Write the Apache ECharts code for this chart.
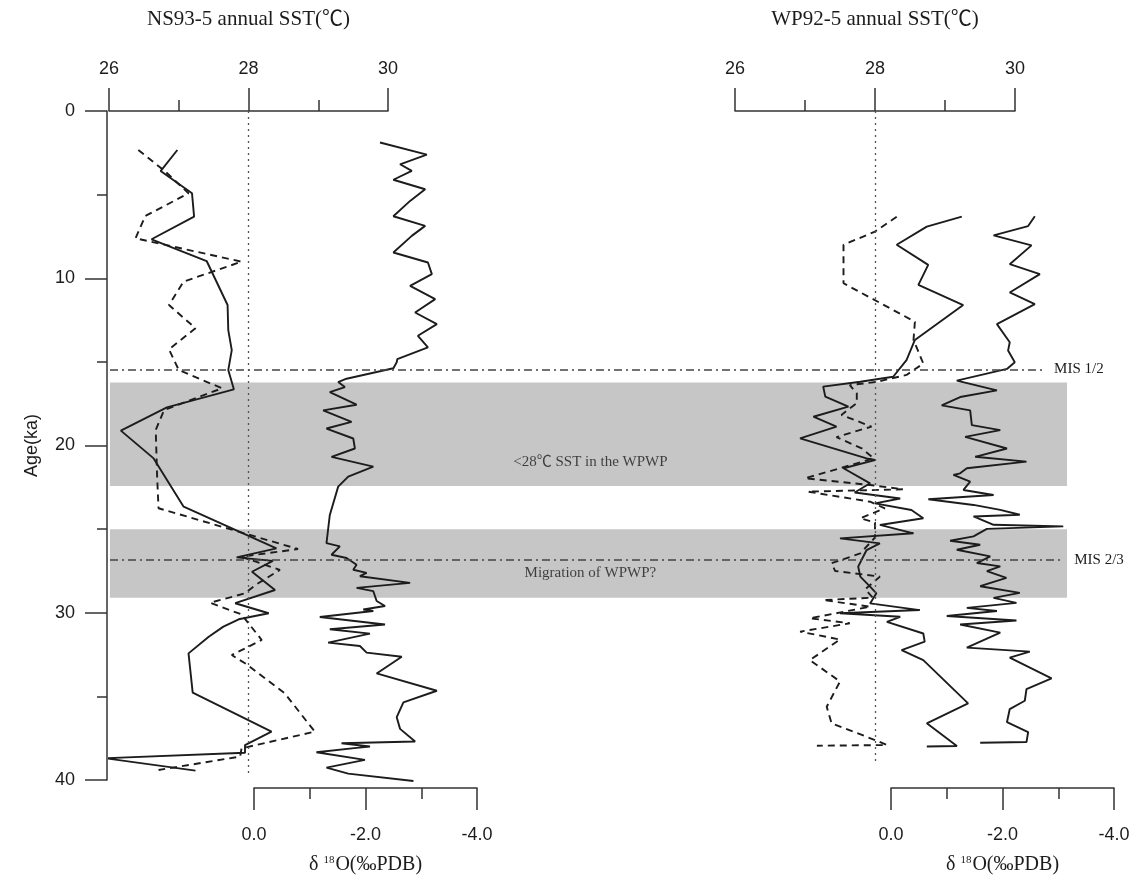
<!DOCTYPE html>
<html><head><meta charset="utf-8">
<script src="https://cdn.jsdelivr.net/npm/echarts@6/dist/echarts.min.js"></script>
<style>html,body{margin:0;padding:0;background:#fff}#c{width:1142px;height:880px}</style>
</head><body><div id="c"></div>
<script>
// ---------------- data ----------------
const ageTicks = [0, 10, 20, 30, 40];
const sstTicks = [26, 28, 30];
const d18Ticks = [0, -2, -4];
const refSst = 28;

// NS93-5 SST (solid)
const nsSstAge = [2.33,3.59,4.92,6.32,7.67,8.97,11.6,13.1,14.3,15.49,16.64,17.72,19.11,20.77,23.66,26.15,26.69,26.9,27.55,28.64,29.43,30.03,30.39,30.83,31.43,32.43,34.78,37.11,37.91,38.37,38.70,39.44];
const nsSstVal = [26.98,26.74,27.19,27.22,26.61,27.40,27.70,27.71,27.76,27.71,27.79,26.83,26.17,26.64,27.07,28.40,27.83,28.35,28.05,28.38,27.81,28.29,27.86,27.64,27.43,27.14,27.20,28.33,27.95,27.95,25.95,27.24];
// NS93-5 SST (dashed)
const nsDashAge = [2.33,3.63,4.92,6.28,7.61,9.01,10.2,11.6,12.99,14.25,15.49,16.58,17.88,19.07,21.86,23.75,26.19,26.65,27.44,28.34,28.84,29.4,30.1,31.63,32.53,33.02,34.82,37.11,38.11,38.6,39.4];
const nsDashVal = [26.42,26.81,27.14,26.52,26.38,27.90,27.07,26.86,27.24,26.86,27.00,27.62,26.79,26.67,26.69,26.71,28.71,27.90,28.45,28.10,27.95,27.45,27.90,28.19,27.76,27.95,28.52,28.95,27.90,27.88,26.71];
// NS93-5 d18O
const nsD18Age = [1.89,2.62,3.2,3.6,4.13,4.7,5.4,6.32,6.9,7.5,8.5,9.1,9.8,10.5,11.3,12.1,12.8,13.5,14.2,14.9,15.09,15.45,16.08,16.28,16.58,16.88,17.64,17.98,18.67,19.07,19.67,20.27,20.77,21.36,21.96,22.56,24.26,25.95,26.15,26.65,26.85,27.25,27.55,27.74,27.94,28.34,28.64,28.84,29.43,29.73,29.94,30.03,30.39,30.84,31.13,31.39,31.93,32.13,32.53,32.78,33.78,34.82,35.52,36.41,37.11,37.87,37.97,38.17,38.25,38.51,38.97,39.44,39.80,40.24];
const nsD18Val = [-2.26,-3.10,-2.62,-2.83,-2.50,-3.07,-2.80,-2.50,-3.07,-2.83,-2.50,-3.12,-3.19,-2.80,-3.25,-2.89,-3.28,-2.94,-3.12,-2.57,-2.56,-2.50,-1.66,-1.51,-1.63,-1.36,-1.84,-1.24,-1.75,-1.30,-1.78,-1.81,-1.39,-2.14,-1.69,-1.51,-1.36,-1.30,-1.54,-1.39,-1.66,-1.84,-1.78,-2.02,-1.90,-2.80,-1.84,-2.14,-2.20,-2.35,-1.96,-2.14,-1.18,-2.35,-1.36,-2.08,-1.33,-1.90,-2.02,-2.65,-2.20,-3.28,-2.68,-2.56,-2.62,-2.89,-1.57,-2.08,-1.84,-1.12,-1.99,-1.30,-1.69,-2.86];

// WP92-5 SST (dashed)
const wpDashAge = [6.32,7.21,8.0,10.3,12.6,13.69,15.1,15.78,16.2,16.39,16.88,17.47,18.17,18.87,19.5,20.17,20.77,21.36,21.96,22.36,22.62,22.76,23.36,23.76,24.35,24.6,25.5,26.45,27.04,27.5,27.84,28.6,29.1,29.24,29.64,30.33,30.63,31.13,31.6,32.83,34.11,35.62,36.61,37.61,37.91,37.95];
const wpDashVal = [28.31,28.00,27.55,27.55,28.57,28.55,28.69,28.45,28.02,27.64,27.74,27.74,27.52,27.95,27.45,27.81,27.98,27.50,27.00,27.93,28.40,27.04,27.93,28.14,27.79,28.00,28.00,27.79,27.38,27.43,28.07,27.86,27.97,27.26,27.93,27.07,27.64,26.93,27.50,27.07,27.50,27.31,27.38,28.00,28.17,27.17];
// WP92-5 SST (solid)
const wpSstAge = [6.32,6.91,8.0,9.2,10.4,11.6,13.69,14.89,15.89,16.19,16.48,17.08,17.68,18.28,18.87,19.57,20.77,20.87,21.36,22.26,22.81,23.17,23.46,23.86,24.35,24.75,25.25,25.55,25.85,26.25,27.24,27.84,28.44,28.84,29.44,29.84,30.03,30.24,30.54,31.24,31.73,32.23,32.83,35.42,36.61,37.97,38.0];
const wpSstVal = [29.24,28.74,28.31,28.76,28.62,29.26,28.57,28.45,28.26,27.79,27.26,27.29,27.62,27.12,27.45,26.93,27.88,28.00,27.55,27.93,27.71,28.36,28.00,28.52,28.69,28.07,28.55,27.50,28.07,27.88,27.76,27.79,27.93,28.02,27.93,28.64,27.50,28.36,28.17,28.69,28.71,28.38,28.69,29.33,28.74,29.17,28.74];
// WP92-5 d18O
const wpD18Age = [6.32,6.91,7.47,8.07,9.2,9.8,10.9,11.6,12.8,13.89,14.39,15.09,15.49,16.19,16.78,17.18,17.68,17.98,18.87,19.17,19.57,20.27,20.77,21.06,21.46,21.76,21.86,22.26,22.76,23.06,23.32,23.66,23.96,24.25,24.35,24.85,24.95,25.1,25.55,25.81,26.05,26.35,26.75,27.15,27.35,27.64,28.04,28.54,28.94,29.24,29.54,29.84,30.03,30.33,30.6,30.84,31.33,32.23,32.47,32.83,34.08,34.72,35.42,35.92,36.71,37.31,37.9,37.94];
const wpD18Val = [-2.58,-2.46,-1.84,-2.52,-2.13,-2.67,-2.13,-2.58,-1.90,-2.13,-2.10,-2.22,-2.08,-1.18,-1.90,-1.24,-0.91,-1.42,-1.45,-1.96,-1.33,-2.08,-1.51,-2.43,-1.36,-1.24,-1.12,-1.42,-1.30,-1.84,-0.67,-1.48,-1.96,-2.31,-1.48,-1.84,-3.09,-1.72,-1.48,-1.06,-1.60,-1.18,-1.78,-1.54,-1.96,-1.72,-2.07,-1.60,-2.31,-1.84,-2.25,-1.36,-1.90,-1.00,-2.25,-1.24,-1.96,-1.36,-2.49,-2.13,-2.88,-2.43,-2.40,-2.13,-2.08,-2.46,-2.43,-1.60];

// annotations
const bandRanges = [[16.24, 22.42], [25.01, 29.1]];
const bandLabels = ['<28℃ SST in the WPWP', 'Migration of WPWP?'];
const bandLabelAge = [21.0, 27.6];
const misAges = [15.45, 26.85];
const misLabels = ['MIS 1/2', 'MIS 2/3'];

// ---------------- styling ----------------
const SANS = '"Liberation Sans", Arial, sans-serif';
const SERIF = '"Liberation Serif", "Times New Roman", "Noto Sans CJK SC", serif';
const INK = '#1c1c1c';
const AX = '#333';

function pts(ages, vals) { return ages.map((a, i) => [vals[i], a]); }

const grids = [
  { left: 110, top: 111, width: 957, height: 669 },
  { left: 109, top: 111, width: 279, height: 669 },
  { left: 254, top: 111, width: 223, height: 669 },
  { left: 735, top: 111, width: 280, height: 669 },
  { left: 891, top: 111, width: 223, height: 669 }
];

const yAxes = grids.map((g, i) => ({
  gridIndex: i, type: 'value', min: ageTicks[0], max: ageTicks[ageTicks.length - 1],
  interval: 10, inverse: true, show: i === 1, offset: 2,
  axisLine: { show: true, onZero: false, lineStyle: { color: AX, width: 1.5 } },
  axisTick: { show: true, length: 22, lineStyle: { color: AX, width: 1.5 } },
  minorTick: { show: true, splitNumber: 2, length: 10, lineStyle: { color: AX, width: 1.5 } },
  splitLine: { show: false },
  axisLabel: { margin: 32, fontSize: 18, fontFamily: SANS, color: INK },
  name: 'Age(ka)', nameLocation: 'middle', nameGap: 66,
  nameTextStyle: { fontSize: 18, fontFamily: SANS, color: INK }
}));

function sstAxis(gi, title) {
  return {
    gridIndex: gi, type: 'value', position: 'top', min: sstTicks[0], max: sstTicks[sstTicks.length - 1], interval: 2,
    axisLine: { show: true, onZero: false, lineStyle: { color: AX, width: 1.5 } },
    axisTick: { show: true, length: 23, lineStyle: { color: AX, width: 1.5 } },
    minorTick: { show: true, splitNumber: 2, length: 11, lineStyle: { color: AX, width: 1.5 } },
    splitLine: { show: false },
    axisLabel: { margin: 33, fontSize: 18, fontFamily: SANS, color: INK },
    name: title, nameLocation: 'middle', nameGap: 81,
    nameTextStyle: { fontSize: 21, fontFamily: SERIF, color: INK }
  };
}
function d18Axis(gi) {
  return {
    gridIndex: gi, type: 'value', position: 'bottom', offset: 11, inverse: true,
    min: d18Ticks[2], max: d18Ticks[0], interval: 2,
    axisLine: { show: true, onZero: false, lineStyle: { color: AX, width: 1.5 } },
    axisTick: { show: true, length: 22, lineStyle: { color: AX, width: 1.5 } },
    minorTick: { show: true, splitNumber: 2, length: 11, lineStyle: { color: AX, width: 1.5 } },
    splitLine: { show: false },
    axisLabel: { margin: 38, fontSize: 18, fontFamily: SANS, color: INK, formatter: v => v.toFixed(1) },
    name: '{a|δ }{b|18}{a|O(‰PDB)}', nameLocation: 'middle', nameGap: 67,
    nameTextStyle: { rich: {
      a: { fontSize: 20, fontFamily: SERIF, color: INK },
      b: { fontSize: 11, fontFamily: SERIF, color: INK, verticalAlign: 'top', padding: [0, 1, 8, 0] }
    } }
  };
}

const xAxes = [
  { gridIndex: 0, type: 'value', min: 0, max: 100, show: false },
  sstAxis(1, 'NS93-5 annual SST(℃)'),
  d18Axis(2),
  sstAxis(3, 'WP92-5 annual SST(℃)'),
  d18Axis(4)
];

function lineSeries(xi, data, dashed, extra) {
  return Object.assign({
    type: 'line', xAxisIndex: xi, yAxisIndex: xi, data: data, symbol: 'none', clip: false,
    silent: true, animation: false, z: 3,
    lineStyle: { color: INK, width: 1.9, type: dashed ? [7, 5] : 'solid' }
  }, extra || {});
}
function refLine(endAge) {
  return {
    symbol: ['none', 'none'], silent: true, animation: false, label: { show: false },
    lineStyle: { type: [2, 4], color: '#555', width: 1.3 },
    data: [[{ coord: [refSst, 0] }, { coord: [refSst, endAge] }]]
  };
}

const misEnd = [97.4, 99.5];

const option = {
  animation: false,
  grid: grids,
  xAxis: xAxes,
  yAxis: yAxes,
  series: [
    {
      type: 'line', xAxisIndex: 0, yAxisIndex: 0, data: [[0, 0]], symbol: 'none', silent: true, z: 1,
      lineStyle: { opacity: 0 },
      markArea: {
        silent: true, animation: false,
        itemStyle: { color: '#c6c6c6' },
        data: bandRanges.map(r => [{ yAxis: r[0] }, { yAxis: r[1] }])
      },
      markLine: {
        symbol: ['none', 'none'], silent: true, animation: false,
        lineStyle: { type: [8, 4, 2, 4], color: '#444', width: 1.5 },
        label: { show: true, position: 'end', distance: 12, formatter: p => p.name,
                 fontFamily: SERIF, fontSize: 15, color: INK },
        data: misAges.map((a, i) => [{ coord: [0, a], name: misLabels[i] }, { coord: [misEnd[i], a], name: misLabels[i] }])
      }
    },
    {
      type: 'scatter', xAxisIndex: 0, yAxisIndex: 0, symbolSize: 1, silent: true, z: 2,
      itemStyle: { color: 'rgba(0,0,0,0)' },
      data: bandLabelAge.map((a, i) => ({ value: [50.2, a], name: bandLabels[i] })),
      label: { show: true, position: 'inside', formatter: p => p.name,
               fontFamily: SERIF, fontSize: 15, color: INK }
    },
    lineSeries(1, pts(nsSstAge, nsSstVal), false, { markLine: refLine(39.8) }),
    lineSeries(1, pts(nsDashAge, nsDashVal), true),
    lineSeries(2, pts(nsD18Age, nsD18Val), false),
    lineSeries(3, pts(wpDashAge, wpDashVal), true, { markLine: refLine(39.0) }),
    lineSeries(3, pts(wpSstAge, wpSstVal), false),
    lineSeries(4, pts(wpD18Age, wpD18Val), false)
  ]
};

const chart = echarts.init(document.getElementById('c'), null, { renderer: 'canvas' });
chart.setOption(option);
</script>
</body></html>
